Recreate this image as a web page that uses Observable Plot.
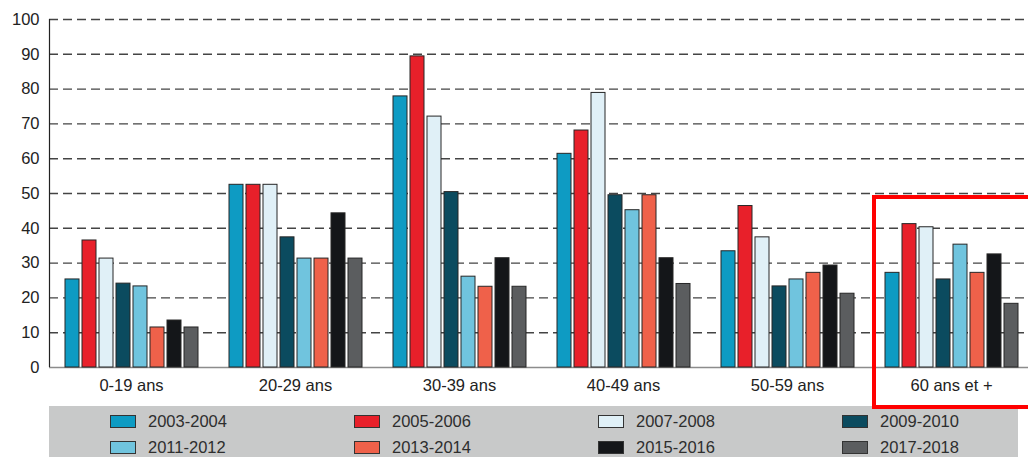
<!DOCTYPE html>
<html><head><meta charset="utf-8">
<script src="https://cdn.jsdelivr.net/npm/d3@7"></script>
<script src="https://cdn.jsdelivr.net/npm/@observablehq/plot@0.6"></script>
<style>
html,body{margin:0;padding:0;background:#fff;}
#wrap{position:relative;width:1028px;height:457px;overflow:hidden;font-family:"Liberation Sans",Arial,sans-serif;}
#back,#chart{position:absolute;left:0;top:0;}
#legend{position:absolute;left:49px;top:406px;width:969px;height:51px;background:#c8c9c9;
  display:grid;grid-template-columns:244px 244px 244px 237px;grid-auto-rows:26px;padding-left:61px;box-sizing:border-box;padding-top:2px;}
.item{display:flex;align-items:center;font-size:16.5px;color:#2e2e2e;}
.sw{width:24px;height:11px;border:1px solid #333;margin-right:12px;}
#box{position:absolute;border:4px solid #ff0000;box-sizing:border-box;}
</style></head>
<body><div id="wrap"><div id="back"></div><div id="chart"></div><div id="legend"></div><div id="box"></div></div>
<script>
const groups = ["0-19 ans","20-29 ans","30-39 ans","40-49 ans","50-59 ans","60 ans et +"];
const periods = ["2003-2004","2005-2006","2007-2008","2009-2010","2011-2012","2013-2014","2015-2016","2017-2018"];
const colors = ["#0e9bc3","#e8202a","#e0f0f7","#0b4b5f","#70c4de","#ef614a","#141619","#5b5d5f"];
const v2003_2004 = [25.3, 52.5, 77.9, 61.4, 33.4, 27.2];
const v2005_2006 = [36.5, 52.5, 89.4, 68.1, 46.4, 41.2];
const v2007_2008 = [31.3, 52.5, 72.1, 78.9, 37.4, 40.3];
const v2009_2010 = [24.1, 37.4, 50.4, 49.5, 23.3, 25.3];
const v2011_2012 = [23.3, 31.3, 26.1, 45.2, 25.3, 35.3];
const v2013_2014 = [11.5, 31.3, 23.2, 49.5, 27.2, 27.2];
const v2015_2016 = [13.5, 44.3, 31.4, 31.4, 29.3, 32.5];
const v2017_2018 = [11.5, 31.3, 23.2, 24.0, 21.2, 18.3];
const yTicks = [0,10,20,30,40,50,60,70,80,90,100];
const gridTicks = [10,20,30,40,50,60,70,80,90,100];
const highlighted = "60 ans et +";

const series = [v2003_2004,v2005_2006,v2007_2008,v2009_2010,v2011_2012,v2013_2014,v2015_2016,v2017_2018];
const rows = [];
periods.forEach((p,i)=>groups.forEach((g,j)=>rows.push({group:g, period:p, value:series[i][j]})));

const font = '"Liberation Sans",Arial,sans-serif';
const common = {
  width:1028, height:405,
  marginLeft:49, marginRight:-5, marginTop:19, marginBottom:38,
  style:{fontFamily:font, fontSize:"16.5px", color:"#222", background:"transparent", overflow:"visible"}
};

// background layer: grid, axis, baseline
const back = Plot.plot({
  ...common,
  x:{domain:[0,1], axis:null},
  y:{domain:[0,100], axis:null},
  marks:[
    Plot.ruleY(gridTicks, {stroke:"#444", strokeWidth:1.4, strokeDasharray:"9,5"}),
    Plot.ruleY([0], {stroke:"#8c8c8c", strokeWidth:1.5}),
    Plot.axisY({ticks:yTicks, tickSize:0, tickPadding:10, label:null, anchor:"left"}),
    Plot.ruleX([0], {stroke:"#222", strokeWidth:1.2})
  ]
});
document.getElementById("back").appendChild(back);

// bars layer
const plot = Plot.plot({
  ...common,
  fx:{domain:groups, paddingInner:0.146, paddingOuter:0.073, label:null, axis:"bottom", tickSize:0, tickPadding:12},
  x:{domain:periods, paddingInner:0.2, paddingOuter:0.1, axis:null},
  y:{domain:[0,100], axis:null},
  color:{domain:periods, range:colors},
  marks:[
    Plot.barY(rows, {fx:"group", x:"period", y:"value", fill:"period", stroke:"#262626", strokeWidth:1})
  ]
});
document.getElementById("chart").appendChild(plot);

// legend
const leg = document.getElementById("legend");
periods.forEach((p,i)=>{
  const d=document.createElement("div"); d.className="item";
  const s=document.createElement("span"); s.className="sw"; s.style.background=colors[i];
  d.appendChild(s); d.appendChild(document.createTextNode(p)); leg.appendChild(d);
});

// highlight box from the library's scales
const fx = plot.scale("fx"), y = plot.scale("y");
const box = document.getElementById("box");
const bx = fx.apply(highlighted);
box.style.left = (bx - fx.bandwidth*0.065) + "px";
box.style.top = (y.apply(49.5)) + "px";
box.style.width = (fx.bandwidth*1.2) + "px";
box.style.height = (409 - y.apply(49.5)) + "px";
</script></body></html>
